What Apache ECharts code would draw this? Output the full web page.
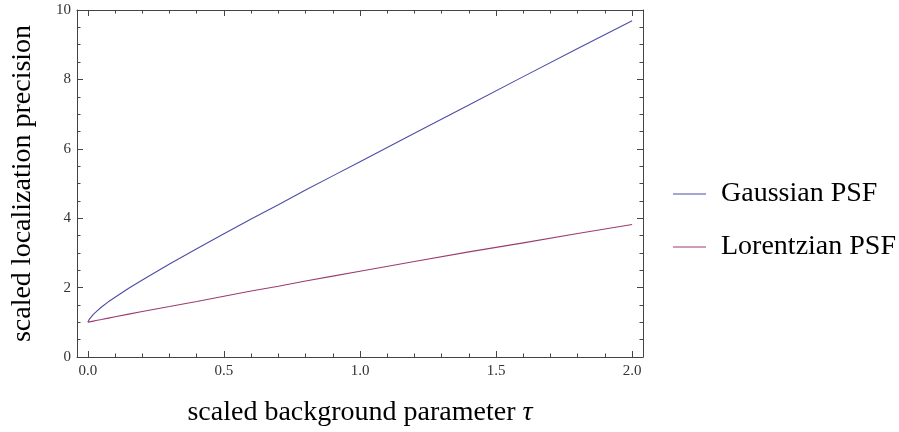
<!DOCTYPE html>
<html>
<head>
<meta charset="utf-8">
<script src="https://cdn.jsdelivr.net/npm/echarts@6/dist/echarts.min.js"></script>
<style>html,body{margin:0;padding:0;background:#fff}#c{width:899px;height:432px}</style>
</head>
<body>
<div id="c"></div>
<script>
var tau =      [0, 0.001, 0.0025, 0.005, 0.01, 0.02, 0.03, 0.05, 0.075, 0.1, 0.15, 0.2, 0.25, 0.3, 0.4, 0.5, 0.6, 0.7, 0.8, 0.9, 1.0, 1.2, 1.4, 1.6, 1.8, 2.0];
var gaussian = [1.0, 1.026, 1.052, 1.085, 1.14, 1.23, 1.30, 1.44, 1.59, 1.72, 1.98, 2.22, 2.45, 2.68, 3.12, 3.55, 3.98, 4.39, 4.81, 5.22, 5.63, 6.45, 7.26, 8.08, 8.89, 9.69];
var lorentzian = [1.0, 1.002, 1.005, 1.01, 1.02, 1.035, 1.05, 1.08, 1.12, 1.16, 1.235, 1.31, 1.385, 1.455, 1.60, 1.75, 1.90, 2.04, 2.19, 2.33, 2.47, 2.75, 3.03, 3.29, 3.56, 3.82];
var xMajorTicks = [0, 0.5, 1.0, 1.5, 2.0];
var xMinorTicks = [0.1, 0.2, 0.3, 0.4, 0.6, 0.7, 0.8, 0.9, 1.1, 1.2, 1.3, 1.4, 1.6, 1.7, 1.8, 1.9];
var seriesNames = ['Gaussian PSF', 'Lorentzian PSF'];
var xTitle = 'scaled background parameter ';
var yTitle = 'scaled localization precision';

var FONT = '"Liberation Serif", "Times New Roman", serif';
var FRAME = '#444';
var XMIN = -0.04, XMAX = 2.04;
var COLORS = ['#4d4da6', '#993d71'];

function pairs(xs, ys) { return xs.map(function (x, i) { return [x, ys[i]]; }); }

function xAxisDef(pos, ticks, len, labels, line, name) {
  var a = {
    type: 'value', position: pos, min: XMIN, max: XMAX,
    axisLine: { show: line, onZero: false, lineStyle: { color: FRAME, width: 1 } },
    axisTick: { show: true, inside: true, length: len, customValues: ticks, lineStyle: { color: FRAME, width: 1 } },
    axisLabel: labels ? { show: true, customValues: xMajorTicks, margin: 7, color: '#333', fontFamily: FONT, fontSize: 15,
      formatter: function (v) { return (+v).toFixed(1); } } : { show: false },
    splitLine: { show: false }
  };
  if (name) {
    a.name = xTitle + '{i|τ}';
    a.nameLocation = 'middle';
    a.nameGap = 42;
    a.nameTextStyle = { fontFamily: FONT, fontSize: 28, color: '#000', rich: { i: { fontFamily: FONT, fontSize: 28, fontStyle: 'italic', color: '#000' } } };
  }
  return a;
}
function yAxisDef(pos, labels, name) {
  var a = {
    type: 'value', position: pos, min: 0, max: 10, interval: 2,
    axisLine: { show: true, onZero: false, lineStyle: { color: FRAME, width: 1 } },
    axisTick: { show: true, inside: true, length: 6, lineStyle: { color: FRAME, width: 1 } },
    minorTick: { show: true, splitNumber: 4, length: 3.5, lineStyle: { color: FRAME, width: 1 } },
    axisLabel: labels ? { show: true, margin: 6, color: '#333', fontFamily: FONT, fontSize: 15 } : { show: false },
    splitLine: { show: false }, minorSplitLine: { show: false }
  };
  if (name) {
    a.name = yTitle;
    a.nameLocation = 'middle';
    a.nameGap = 40;
    a.nameTextStyle = { fontFamily: FONT, fontSize: 28, color: '#000' };
  }
  return a;
}

var chart = echarts.init(document.getElementById('c'), null, { renderer: 'canvas' });
chart.setOption({
  animation: false,
  backgroundColor: '#fff',
  grid: { left: 77, right: 256, top: 10, bottom: 72, containLabel: false },
  legend: {
    orient: 'vertical', left: 668, top: 175, itemWidth: 33, itemHeight: 1, itemGap: 25,
    icon: 'rect',
    data: seriesNames,
    textStyle: { fontFamily: FONT, fontSize: 28, color: '#000', lineHeight: 28, padding: [0, 0, 0, 10] }
  },
  xAxis: [
    xAxisDef('bottom', xMajorTicks, 6, true, true, true),
    xAxisDef('bottom', xMinorTicks, 3.5, false, false, false),
    xAxisDef('top', xMajorTicks, 6, false, true, false),
    xAxisDef('top', xMinorTicks, 3.5, false, false, false)
  ],
  yAxis: [
    yAxisDef('left', true, true),
    yAxisDef('right', false, false)
  ],
  series: [
    { name: seriesNames[0], type: 'line', xAxisIndex: 0, yAxisIndex: 0, data: pairs(tau, gaussian),
      symbol: 'none', smooth: false, lineStyle: { color: COLORS[0], width: 1.1 }, itemStyle: { color: COLORS[0] } },
    { name: seriesNames[1], type: 'line', xAxisIndex: 0, yAxisIndex: 0, data: pairs(tau, lorentzian),
      symbol: 'none', smooth: false, lineStyle: { color: COLORS[1], width: 1.1 }, itemStyle: { color: COLORS[1] } }
  ]
});
</script>
</body>
</html>
